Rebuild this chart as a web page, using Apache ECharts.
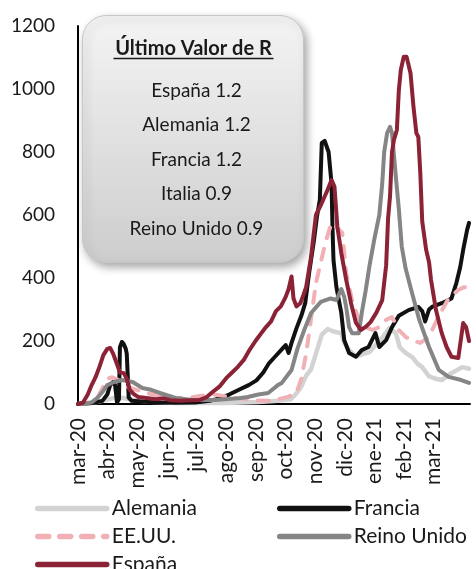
<!DOCTYPE html>
<html>
<head>
<meta charset="utf-8">
<script src="https://cdn.jsdelivr.net/npm/echarts@6/dist/echarts.min.js"></script>
<style>
  html, body { margin: 0; padding: 0; background: #fff; }
  #chart { width: 476px; height: 569px; }
</style>
</head>
<body>
<div id="chart"></div>
<script>
// x values are days counted from 1 March 2020
const monthLabels = ['mar-20','abr-20','may-20','jun-20','jul-20','ago-20','sep-20','oct-20','nov-20','dic-20','ene-21','feb-21','mar-21'];
const yTicks = [0, 200, 400, 600, 800, 1000, 1200];

const alemania = [[0,0],[15,4],[25,10],[35,18],[45,20],[55,14],[70,8],[100,3],[150,3],[185,6],[205,10],[218,15],[223,30],[229,55],[234,90],[239,110],[244,160],[250,220],[256,238],[262,230],[270,225],[273,195],[278,171],[285,150],[292,158],[299,165],[306,190],[312,210],[319,240],[326,225],[330,180],[336,162],[343,148],[348,128],[353,117],[360,88],[367,80],[373,76],[383,98],[394,117],[401,112]];

const francia = [[0,0],[15,3],[25,10],[30,30],[33,60],[36,70],[38,60],[40,5],[42,15],[43,180],[45,197],[47,190],[49,175],[50,160],[52,20],[55,10],[65,8],[80,5],[100,4],[120,5],[135,10],[145,18],[155,30],[165,45],[175,60],[183,75],[190,100],[196,130],[202,150],[208,170],[213,187],[216,162],[219,194],[224,240],[229,280],[233,320],[237,416],[242,520],[245,594],[248,648],[250,829],[253,835],[257,800],[260,700],[261,560],[262,457],[265,371],[270,289],[273,203],[278,162],[285,150],[291,171],[298,181],[305,225],[309,181],[316,203],[322,244],[329,280],[339,298],[349,308],[353,295],[356,262],[360,300],[363,308],[373,320],[383,335],[388,384],[392,435],[395,489],[399,552],[401,575]];

const eeuu = [[0,0],[10,3],[20,20],[25,50],[30,80],[35,85],[42,75],[50,55],[60,45],[70,35],[85,25],[100,18],[115,20],[130,28],[140,30],[150,25],[165,18],[180,12],[195,10],[205,15],[215,22],[224,35],[229,80],[234,160],[239,270],[244,384],[249,450],[254,515],[260,575],[265,562],[271,543],[275,416],[281,330],[288,267],[295,244],[302,235],[309,244],[316,267],[322,276],[329,235],[336,213],[342,203],[351,194],[360,213],[370,280],[380,335],[390,362],[396,371],[401,368]];

const reinoUnido = [[0,0],[10,2],[14,5],[20,20],[25,38],[30,60],[37,70],[45,76],[56,70],[66,51],[75,45],[84,35],[100,19],[117,13],[140,13],[165,18],[174,22],[185,30],[195,35],[205,60],[209,67],[219,108],[225,175],[232,235],[239,289],[249,324],[259,335],[265,330],[270,365],[273,340],[275,308],[278,244],[281,225],[288,225],[291,289],[295,360],[299,440],[304,525],[309,600],[312,700],[314,800],[317,860],[320,880],[322,860],[324,790],[326,720],[329,620],[332,500],[336,430],[341,371],[350,267],[360,181],[370,108],[380,86],[393,76],[401,67]];

const espana = [[0,0],[5,4],[10,30],[14,60],[18,85],[22,118],[26,155],[30,175],[33,178],[36,160],[39,135],[43,100],[47,98],[50,80],[53,45],[57,32],[62,22],[70,19],[80,15],[88,18],[95,12],[105,10],[115,12],[125,13],[132,22],[138,38],[145,55],[152,82],[158,100],[164,118],[170,140],[176,172],[182,200],[188,225],[193,245],[198,262],[203,295],[208,310],[213,340],[216,365],[219,405],[221,335],[224,310],[228,320],[231,345],[234,372],[239,467],[244,600],[250,638],[256,680],[260,711],[263,690],[266,562],[270,480],[275,395],[280,320],[285,258],[290,235],[295,245],[300,260],[306,290],[312,330],[316,440],[318,590],[320,660],[322,800],[324,838],[327,870],[329,995],[331,1060],[334,1102],[337,1102],[341,1050],[344,945],[347,860],[349,848],[351,735],[353,580],[357,490],[360,450],[362,395],[367,300],[373,225],[378,181],[383,150],[390,146],[393,213],[395,257],[398,244],[401,200]];

// Latest reproduction number per country, shown in the box
const rCountries = ['España', 'Alemania', 'Francia', 'Italia', 'Reino Unido'];
const rValues = [1.2, 1.2, 1.2, 0.9, 0.9];

const FONT = 'Lato, "Open Sans", sans-serif';
const MONTH = 30.4;

const chart = echarts.init(document.getElementById('chart'), null, { renderer: 'canvas' });

function lineSeries(name, data, color, width, dashed) {
  return {
    name: name,
    type: 'line',
    data: data,
    symbol: 'none',
    showSymbol: false,
    smooth: false,
    animation: false,
    lineStyle: {
      color: color,
      width: width,
      type: dashed ? [11, 11] : 'solid',
      cap: 'round',
      join: 'round'
    },
    itemStyle: { color: color }
  };
}

const boxChildren = [
  {
    type: 'rect',
    shape: { x: 0, y: 0, width: 221, height: 247, r: 24 },
    style: {
      fill: new echarts.graphic.LinearGradient(0, 0, 0, 1, [
        { offset: 0, color: '#f4f4f4' },
        { offset: 1, color: '#cdcdcd' }
      ]),
      stroke: '#c6c6c6',
      lineWidth: 1,
      shadowBlur: 8,
      shadowOffsetX: 3,
      shadowOffsetY: 4,
      shadowColor: 'rgba(0,0,0,0.35)'
    }
  },
  {
    type: 'text',
    x: 111, y: 33,
    style: {
      text: 'Último Valor de R',
      fill: '#1a1a1a',
      font: 'bold 20px ' + FONT,
      align: 'center',
      verticalAlign: 'middle'
    }
  },
  {
    type: 'line',
    shape: { x1: 31, y1: 43, x2: 191, y2: 43 },
    style: { stroke: '#1a1a1a', lineWidth: 1.5 }
  }
];
rCountries.forEach(function (c, i) {
  boxChildren.push({
    type: 'text',
    x: 114, y: 75 + i * 34.5,
    style: {
      text: c + ' ' + rValues[i].toFixed(1),
      fill: '#1a1a1a',
      font: '19px ' + FONT,
      align: 'center',
      verticalAlign: 'middle'
    }
  });
});

const legendCommon = {
  orient: 'vertical',
  padding: 0,
  height: 80,
  itemWidth: 69,
  itemHeight: 20,
  itemGap: 7,
  itemTextGap: 8,
  textStyle: { fontFamily: FONT, fontSize: 21, color: '#1a1a1a', lineHeight: 20 },
  lineStyle: { width: 5.5 },
  itemStyle: { color: 'rgba(0,0,0,0)', borderWidth: 0, opacity: 0 },
  selectedMode: false
};

const option = {
  backgroundColor: '#ffffff',
  animation: false,
  grid: { left: 78, right: 6, top: 26, bottom: 165, containLabel: false },
  xAxis: {
    type: 'value',
    min: 0,
    max: 402,
    interval: MONTH,
    axisLine: { show: true, lineStyle: { color: '#000', width: 2 } },
    axisTick: { show: false },
    splitLine: { show: false },
    axisLabel: {
      rotate: 90,
      margin: 14,
      fontFamily: FONT,
      fontSize: 21,
      color: '#1a1a1a',
      showMaxLabel: false,
      formatter: function (v) {
        const idx = Math.round(v / MONTH);
        return monthLabels[idx] || '';
      }
    }
  },
  yAxis: {
    type: 'value',
    min: yTicks[0],
    max: yTicks[yTicks.length - 1],
    interval: yTicks[1] - yTicks[0],
    axisLine: { show: true, lineStyle: { color: '#000', width: 2 } },
    axisTick: { show: false },
    splitLine: { show: false },
    axisLabel: {
      margin: 23,
      fontFamily: FONT,
      fontSize: 19,
      color: '#1a1a1a',
      formatter: function (v) { return String(v); }
    }
  },
  legend: [
    Object.assign({}, legendCommon, {
      left: 35, top: 498,
      data: ['Alemania', 'EE.UU.', 'España']
    }),
    Object.assign({}, legendCommon, {
      left: 277, top: 498,
      data: ['Francia', 'Reino Unido']
    })
  ],
  graphic: [
    { type: 'group', left: 82, top: 15, children: boxChildren }
  ],
  series: [
    lineSeries('Alemania', alemania, '#d3d3d3', 4.5, false),
    lineSeries('Francia', francia, '#111111', 4, false),
    lineSeries('EE.UU.', eeuu, '#f1b0b6', 4, true),
    lineSeries('Reino Unido', reinoUnido, '#858585', 4, false),
    lineSeries('España', espana, '#8c2236', 4, false)
  ]
};

chart.setOption(option);
</script>
</body>
</html>
